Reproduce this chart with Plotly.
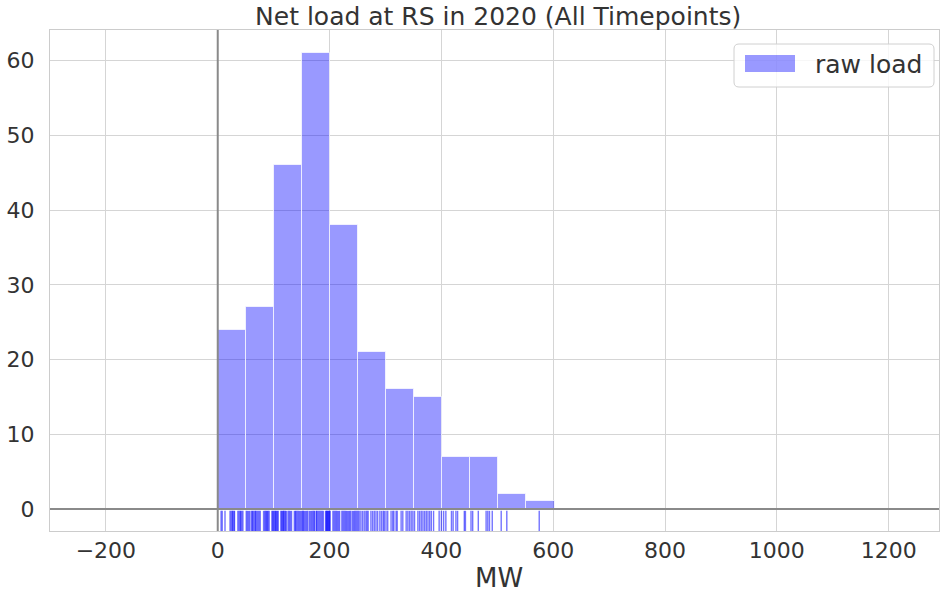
import plotly.graph_objects as go

# Histogram data (bin start, bin width in MW, counts)
bin_start = 0.0
bin_width = 50.2
counts = [24, 27, 46, 61, 38, 21, 16, 15, 7, 7, 2, 1]

rug_values = [6, 8, 13, 22, 24, 26, 27, 29, 30, 36, 38, 40, 41, 43, 45, 51, 53, 55, 57,
              60, 62, 63, 65, 67, 68, 70, 72, 74, 76, 82, 84, 86, 87, 89, 90, 92, 97, 98,
              100, 101, 103, 104, 105, 107, 108, 113, 114, 116, 117, 118, 120, 121, 123,
              126, 128, 130, 132, 137, 139, 140, 142, 144, 146, 148, 150, 152, 153, 155,
              157, 159, 161, 164, 166, 168, 170, 172, 173, 176, 177, 179, 181, 183, 185,
              187, 189, 193, 194, 195, 196, 197, 198, 199, 200, 201, 206, 208, 210, 212,
              214, 216, 218, 222, 224, 226, 228, 230, 232, 234, 236, 238, 241, 243, 245,
              247, 249, 251, 253, 256, 259, 262, 265, 267, 269, 274, 277, 280, 283, 286,
              290, 293, 296, 298, 301, 304, 310, 313, 315, 319, 321, 328, 331, 337, 340,
              343, 346, 349, 352, 358, 361, 364, 367, 370, 373, 376, 379, 382, 386, 396,
              400, 404, 408, 418, 421, 426, 429, 441, 443, 453, 456, 466, 480, 483, 486,
              491, 507, 517, 575]

x_ticks = [-200, 0, 200, 400, 600, 800, 1000, 1200]
x_tick_text = ["\u2212200", "0", "200", "400", "600", "800", "1000", "1200"]
y_ticks = [0, 10, 20, 30, 40, 50, 60]
series_name = "raw load"
x_label = "MW"

x_range = [-300, 1290]
y_range = [-2.95, 64.1]
rug_top = -0.25

bar_color = "rgba(0,0,255,0.4)"
txt = "#333333"
zero_color = "#8a8a8a"

centers = [bin_start + bin_width * (i + 0.5) for i in range(len(counts))]

fig = go.Figure()
fig.add_trace(go.Bar(
    x=centers, y=counts, width=[bin_width] * len(counts),
    marker=dict(color=bar_color, line=dict(color="rgba(255,255,255,0.7)", width=1)),
    name=series_name, showlegend=False,
))

rx, ry = [], []
for v in rug_values:
    rx += [v, v, None]
    ry += [y_range[0], rug_top, None]
fig.add_trace(go.Scatter(
    x=rx, y=ry, mode="lines", line=dict(color="rgba(0,0,255,0.55)", width=1.4),
    showlegend=False, hoverinfo="skip",
))

# Legend drawn as layout decoration (paper coordinates), mimicking matplotlib's legend
L, R, T, B = 50, 939, 30, 531
W, H = R - L, B - T
def px(xp): return (xp - L) / W
def py(yp): return (B - yp) / H

bx0, bx1, by1, by0 = px(734), px(934), py(44), py(87)
rx_, ry_ = 5 / W, 5 / H
legend_path = (f"M {bx0+rx_},{by1} L {bx1-rx_},{by1} Q {bx1},{by1} {bx1},{by1-ry_} "
               f"L {bx1},{by0+ry_} Q {bx1},{by0} {bx1-rx_},{by0} L {bx0+rx_},{by0} "
               f"Q {bx0},{by0} {bx0},{by0+ry_} L {bx0},{by1-ry_} Q {bx0},{by1} {bx0+rx_},{by1} Z")
shapes = [
    # axvline / axhline at zero, drawn above the bars
    dict(type="line", xref="x", yref="y domain", x0=0, x1=0, y0=0, y1=1,
         line=dict(color=zero_color, width=2), layer="above"),
    dict(type="line", xref="x domain", yref="y", x0=0, x1=1, y0=0, y1=0,
         line=dict(color=zero_color, width=2), layer="above"),
    dict(type="path", xref="paper", yref="paper", path=legend_path,
         fillcolor="rgba(255,255,255,0.8)", line=dict(color="#d0d0d0", width=1), layer="above"),
    dict(type="rect", xref="paper", yref="paper", x0=px(745), x1=px(795), y0=py(72), y1=py(55),
         fillcolor=bar_color, line=dict(width=0), layer="above"),
]
annotations = [
    dict(text=series_name, xref="paper", yref="paper", x=px(813), y=py(65),
         xanchor="left", yanchor="middle", showarrow=False, font=dict(size=25, color=txt)),
    dict(text=x_label, xref="paper", yref="paper", x=px(499), y=py(578),
         xanchor="center", yanchor="middle", showarrow=False, font=dict(size=26, color=txt)),
]

fig.update_layout(
    width=940, height=595,
    margin=dict(l=L, r=940 - R, t=T, b=595 - B),
    paper_bgcolor="white", plot_bgcolor="white",
    font=dict(family="DejaVu Sans", size=22, color=txt),
    title=dict(text="Net load at RS in 2020 (All Timepoints)", x=0.530, xanchor="center",
               y=0.972, yanchor="middle", font=dict(size=25, color=txt)),
    bargap=0,
    showlegend=False,
    shapes=shapes, annotations=annotations,
)
fig.update_xaxes(range=x_range, tickvals=x_ticks, ticktext=x_tick_text,
                 showgrid=True, gridcolor="#d5d5d5", gridwidth=1,
                 zeroline=False,
                 showline=True, linecolor="#cccccc", linewidth=1, mirror=True,
                 ticks="", tickfont=dict(size=22))
fig.update_yaxes(range=y_range, tickvals=y_ticks,
                 showgrid=True, gridcolor="#d5d5d5", gridwidth=1,
                 zeroline=False,
                 showline=True, linecolor="#cccccc", linewidth=1, mirror=True,
                 ticks="", tickfont=dict(size=22), ticklabelstandoff=10)

fig.write_html("out.html")
